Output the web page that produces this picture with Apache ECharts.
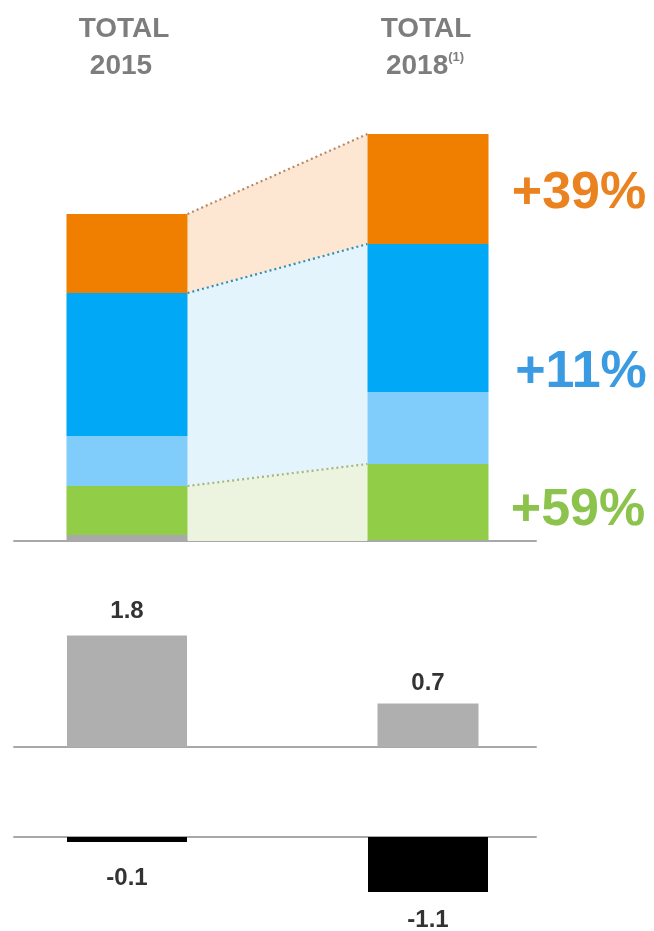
<!DOCTYPE html>
<html>
<head>
<meta charset="utf-8">
<script src="https://cdn.jsdelivr.net/npm/echarts@6/dist/echarts.min.js"></script>
<style>
html,body{margin:0;padding:0;background:#fff;}
#chart{width:654px;height:931px;}
</style>
</head>
<body>
<div id="chart"></div>
<script>
// ---- data ----
const periods = ['TOTAL 2015', 'TOTAL 2018'];
const headerTop = ['TOTAL', 'TOTAL'];
const headerBottom = ['2015', '2018'];
const otherValues = [0.6, 0.1];       // grey base segment
const greenValues = [4.9, 7.6];
const lightBlueValues = [5.0, 7.2];
const blueValues = [14.3, 14.8];
const orangeValues = [7.9, 11.0];
const growthLabels = ['+39%', '+11%', '+59%'];
const greyBarValues = [1.8, 0.7];
const blackBarValues = [-0.1, -1.1];

// ---- layout helpers ----
const FONT = '"Liberation Sans", Arial, sans-serif';
const PX0 = 127, PX1 = 428, GL = 14, GR = 536;
const unit = PX1 - PX0;
const xMin = (GL - PX0) / unit;
const xMax = 1 + (GR - PX1) / unit;
const BW = 121;

const C = {
  grey: '#a9a9a9', green: '#92cd48', lightBlue: '#80ccfa', blue: '#00a8f5', orange: '#f07f00',
  bandOrange: '#fde6d2', bandBlue: '#e4f4fc', bandGreen: '#ecf4df',
  lineOrange: '#b58a66', lineBlue: '#2f8fb5', lineGreen: '#a3b77a'
};

function xAxisCfg(gridIndex, show) {
  return {
    type: 'value', gridIndex: gridIndex, min: xMin, max: xMax, show: show,
    axisLine: {show: true, onZero: true, lineStyle: {color: '#a8a8a8', width: 2}},
    axisTick: {show: false}, axisLabel: {show: false}, splitLine: {show: false}
  };
}
function yAxisCfg(gridIndex, min, max) {
  return {type: 'value', gridIndex: gridIndex, min: min, max: max, show: false, splitLine: {show: false}};
}

// value first so that it is the stacked dimension; encode maps it to y
const stackSeries = [
  ['other', otherValues, C.grey],
  ['green', greenValues, C.green],
  ['lightBlue', lightBlueValues, C.lightBlue],
  ['blue', blueValues, C.blue],
  ['orange', orangeValues, C.orange]
].map(([name, vals, color]) => ({
  name: name, type: 'bar', stack: 'top', xAxisIndex: 0, yAxisIndex: 0,
  barWidth: BW, itemStyle: {color: color}, z: 3,
  encode: {x: 1, y: 0},
  data: vals.map((v, i) => [v, i])
}));

// cumulative levels for the connecting bands
const greenTop = [0, 1].map(i => otherValues[i] + greenValues[i]);
const blueTop = [0, 1].map(i => greenTop[i] + lightBlueValues[i] + blueValues[i]);
const orangeTop = [0, 1].map(i => blueTop[i] + orangeValues[i]);
const bands = [
  // leftBottom, leftTop, rightBottom, rightTop, fill, line
  [blueTop[0], orangeTop[0], blueTop[1], orangeTop[1], C.bandOrange, C.lineOrange],
  [greenTop[0], blueTop[0], greenTop[1], blueTop[1], C.bandBlue, C.lineBlue],
  [0, greenTop[0], 0, greenTop[1], C.bandGreen, C.lineGreen]
];

const bandSeries = {
  type: 'custom', xAxisIndex: 0, yAxisIndex: 0, z: 1, silent: true,
  data: bands.map(b => [b[0], b[1], b[2], b[3]]),
  encode: {x: -1, y: [0, 1, 2, 3]},
  renderItem: function (params, api) {
    const b = bands[params.dataIndex];
    const lb = api.coord([0, api.value(0)]);
    const lt = api.coord([0, api.value(1)]);
    const rb = api.coord([1, api.value(2)]);
    const rt = api.coord([1, api.value(3)]);
    const xl = lb[0] + BW / 2, xr = rb[0] - BW / 2;
    return {
      type: 'group',
      children: [
        {type: 'polygon', shape: {points: [[xl, lt[1]], [xr, rt[1]], [xr, rb[1]], [xl, lb[1]]]},
         style: {fill: b[4]}},
        {type: 'polyline', shape: {points: [[xl, lt[1]], [xr, rt[1]]]},
         style: {stroke: b[5], lineWidth: 2.2, lineDash: [2, 3], fill: null}}
      ]
    };
  }
};

const labelStyle = {fontSize: 24, fontWeight: 'bold', color: '#333', fontFamily: FONT};

const option = {
  animation: false,
  backgroundColor: '#fff',
  grid: [
    {left: GL, width: GR - GL, top: 131, height: 410},
    {left: GL, width: GR - GL, top: 623, height: 124},
    {left: GL, width: GR - GL, top: 837, height: 60}
  ],
  xAxis: [xAxisCfg(0, true), xAxisCfg(1, true), xAxisCfg(1, false), xAxisCfg(2, true)],
  yAxis: [yAxisCfg(0, 0, 41), yAxisCfg(1, 0, 2), yAxisCfg(2, -1.2, 0)],
  series: stackSeries.concat([
    bandSeries,
    {type: 'bar', name: periods[0], xAxisIndex: 1, yAxisIndex: 1, barWidth: 120,
     itemStyle: {color: '#afafaf'}, data: [[0, greyBarValues[0]]],
     label: Object.assign({show: true, position: 'top', distance: 12, formatter: p => p.value[1].toFixed(1)}, labelStyle)},
    {type: 'bar', name: periods[1], xAxisIndex: 2, yAxisIndex: 1, barWidth: 101,
     itemStyle: {color: '#afafaf'}, data: [[1, greyBarValues[1]]],
     label: Object.assign({show: true, position: 'top', distance: 8, formatter: p => p.value[1].toFixed(1)}, labelStyle)},
    {type: 'bar', xAxisIndex: 3, yAxisIndex: 2, barWidth: 120,
     itemStyle: {color: '#000'}, data: blackBarValues.map((v, i) => [i, v]),
     label: Object.assign({show: true, position: 'bottom', formatter: p => p.value[1].toFixed(1)}, labelStyle,
       {distance: 16})}
  ]),
  graphic: [
    {type: 'text', x: 124, y: 29, style: {text: headerTop[0], fontSize: 28, fontWeight: 'bold', fontFamily: FONT, fill: '#7d7d7d', align: 'center', verticalAlign: 'middle'}},
    {type: 'text', x: 121, y: 66, style: {text: headerBottom[0], fontSize: 28, fontWeight: 'bold', fontFamily: FONT, fill: '#7d7d7d', align: 'center', verticalAlign: 'middle'}},
    {type: 'text', x: 426, y: 29, style: {text: headerTop[1], fontSize: 28, fontWeight: 'bold', fontFamily: FONT, fill: '#7d7d7d', align: 'center', verticalAlign: 'middle'}},
    {type: 'text', x: 425, y: 66, style: {text: '{a|' + headerBottom[1] + '}{b|(1)}', align: 'center', verticalAlign: 'middle',
      rich: {a: {fontSize: 28, fontWeight: 'bold', fontFamily: FONT, fill: '#7d7d7d', color: '#7d7d7d', lineHeight: 30},
             b: {fontSize: 13, fontWeight: 'bold', fontFamily: FONT, fill: '#7d7d7d', color: '#7d7d7d', verticalAlign: 'top', lineHeight: 30}}}},
    {type: 'text', x: 579, y: 194, style: {text: growthLabels[0], fontSize: 52, fontWeight: 'bold', fontFamily: FONT, fill: '#eb8220', align: 'center', verticalAlign: 'middle'}},
    {type: 'text', x: 581, y: 373, style: {text: growthLabels[1], fontSize: 52, fontWeight: 'bold', fontFamily: FONT, fill: '#3b9be2', align: 'center', verticalAlign: 'middle'}},
    {type: 'text', x: 578, y: 511, style: {text: growthLabels[2], fontSize: 52, fontWeight: 'bold', fontFamily: FONT, fill: '#8cc34d', align: 'center', verticalAlign: 'middle'}}
  ]
};

// label gaps below the negative bars differ a little in the reference
option.series[option.series.length - 1].data = blackBarValues.map((v, i) => ({
  value: [i, v], label: {distance: i === 0 ? 24 : 16}
}));

const chart = echarts.init(document.getElementById('chart'), null, {renderer: 'canvas'});
chart.setOption(option);
</script>
</body>
</html>
